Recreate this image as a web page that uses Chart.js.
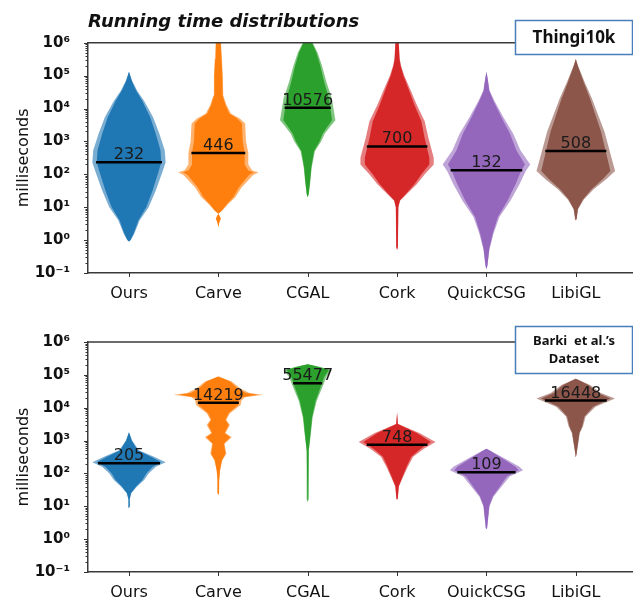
<!DOCTYPE html>
<html><head><meta charset="utf-8">
<script src="https://cdn.jsdelivr.net/npm/chart.js@4.4.1/dist/chart.umd.min.js"></script>
<style>
html,body{margin:0;padding:0;background:#fff;}
#wrap{position:relative;width:633px;height:597px;overflow:hidden;background:#fff;}
canvas{position:absolute;left:0;}
#c1{top:0;}
#c2{top:300px;}
</style></head><body>
<div id="wrap"><canvas id="c1" width="633" height="300"></canvas><canvas id="c2" width="633" height="297"></canvas></div>
<script>
// ---------- data ----------
const categories = ['Ours', 'Carve', 'CGAL', 'Cork', 'QuickCSG', 'LibiGL'];
const colors = ['#1f77b4', '#ff7f0e', '#2ca02c', '#d62728', '#9467bd', '#8c564b'];
const yMin = 0.1, yMax = 1e6;

// medians (ms)
const thingiMedians = [232, 446, 10576, 700, 132, 508];
const barkiMedians = [205, 14219, 55477, 748, 109, 16448];

// density profiles: [milliseconds, half-width in category units]
const thingiOurs = [[1.3e5,0],[7e4,.035],[3.5e4,.09],[1.7e4,.17],[5400,.27],[1700,.34],[540,.40],[230,.41],[110,.37],[32,.30],[10,.22],[4,.12],[1.6,.06],[1,.02],[0.9,0]];
const thingiCarve = [[1e6,.03],[3.2e5,.04],[1e5,.05],[2.5e4,.055],[1.3e4,.09],[7000,.14],[5000,.24],[3500,.30],[1000,.31],[450,.335],[200,.335],[130,.38],[115,.45],[95,.39],[40,.26],[20,.19],[12.6,.11],[7.9,.045],[6.3,0],[4.5,.03],[3.5,.012],[2.5,0]];
const thingiCGAL = [[1e6,.055],[5e5,.11],[2e5,.16],[6.3e4,.21],[2e4,.27],[4400,.31],[2800,.25],[1700,.19],[1000,.15],[500,.08],[160,.045],[63,.03],[25,.012],[20,0]];
const thingiCork = [[1e6,.02],[3.2e5,.03],[2e5,.045],[1e5,.08],[3.2e4,.16],[1.3e4,.22],[4000,.31],[1300,.35],[320,.41],[200,.41],[100,.31],[50,.22],[25,.11],[16,.035],[10,.015],[0.63,.01],[0.5,0]];
const thingiQuickCSG = [[1.3e5,0],[8e4,.015],[3.5e4,.035],[1.7e4,.09],[5400,.19],[1700,.30],[540,.38],[200,.49],[126,.44],[50,.37],[16,.27],[5,.145],[1.6,.08],[0.54,.035],[0.17,.012],[0.13,0]];
const thingiLibiGL = [[3.2e5,0],[2e5,.025],[6.3e4,.10],[2e4,.18],[6300,.25],[2000,.32],[630,.37],[250,.41],[126,.44],[71,.34],[35,.20],[17,.09],[8.7,.025],[4.4,.01],[4,0]];

const barkiOurs = [[1800,0],[1000,.035],[510,.11],[320,.28],[220,.41],[160,.30],[100,.22],[63,.17],[40,.09],[25,.025],[16,.008],[10,.01],[9,0]];
const barkiCarve = [[8.9e4,0],[6.3e4,.15],[3.8e4,.25],[2.8e4,.35],[2.5e4,.5],[2.1e4,.3],[1.7e4,.26],[1.2e4,.25],[6800,.13],[4300,.09],[3000,.13],[1700,.08],[1260,.15],[800,.07],[400,.09],[250,.045],[126,.02],[63,.01],[25,.008],[22,0]];
const barkiCGAL = [[2.1e5,0],[1.8e5,.12],[1.4e5,.27],[8.7e4,.21],[4e4,.16],[1.6e4,.10],[5000,.055],[1600,.035],[500,.012],[16,.008],[14,0]];
const barkiCork = [[7000,0],[3200,.01],[1700,.25],[910,.43],[560,.30],[320,.18],[160,.12],[80,.07],[40,.02],[17,.008],[16,0]];
const barkiQuickCSG = [[560,0],[510,.035],[290,.2],[160,.37],[126,.41],[80,.26],[40,.17],[20,.08],[10,.035],[2.2,.008],[2,0]];
const barkiLibiGL = [[7.6e4,0],[6.9e4,.04],[4.9e4,.16],[2.8e4,.28],[1.9e4,.44],[1.07e4,.22],[5400,.11],[2700,.08],[1700,.045],[370,.008],[320,0]];

const thingiProfiles = [thingiOurs, thingiCarve, thingiCGAL, thingiCork, thingiQuickCSG, thingiLibiGL];
const barkiProfiles = [barkiOurs, barkiCarve, barkiCGAL, barkiCork, barkiQuickCSG, barkiLibiGL];

// ---------- helpers ----------
function sup(n) {
  const m = {'-':'⁻','0':'⁰','1':'¹','2':'²','3':'³','4':'⁴','5':'⁵','6':'⁶','7':'⁷','8':'⁸','9':'⁹'};
  return String(n).split('').map(c => m[c]).join('');
}
function rgba(hex, a) {
  const r = parseInt(hex.slice(1,3),16), g = parseInt(hex.slice(3,5),16), b = parseInt(hex.slice(5,7),16);
  return `rgba(${r},${g},${b},${a})`;
}
function polygon(i, profile, k) {
  const right = profile.map(([v, w]) => ({x: i + w * k, y: v}));
  const left = profile.slice().reverse().map(([v, w]) => ({x: i - w * k, y: v}));
  return right.concat(left);
}
function widthAt(profile, m) {
  const lm = Math.log10(m);
  for (let k = 0; k < profile.length - 1; k++) {
    const a = Math.log10(profile[k][0]), b = Math.log10(profile[k+1][0]);
    if (lm <= a && lm >= b) {
      const t = (a - lm) / (a - b);
      return profile[k][1] + (profile[k+1][1] - profile[k][1]) * t;
    }
  }
  return 0.3;
}
function isPow10(v) { const e = Math.log10(v); return Math.abs(e - Math.round(e)) < 1e-9; }

function decorPlugin(cfg) {
  return {
    id: 'decor',
    afterDraw(chart) {
      const ctx = chart.ctx, ca = chart.chartArea, xs = chart.scales.x, ys = chart.scales.y;
      ctx.save();
      // top spine
      ctx.strokeStyle = '#3a3a3a'; ctx.lineWidth = 1.5;
      ctx.beginPath(); ctx.moveTo(ca.left, ca.top); ctx.lineTo(ca.right, ca.top); ctx.stroke();
      // tick marks
      ctx.lineWidth = 1; ctx.strokeStyle = '#333';
      ys.ticks.forEach(t => {
        const p = Math.round(ys.getPixelForValue(t.value)) + 0.5;
        const L = isPow10(t.value) ? 4 : 2.5;
        ctx.beginPath(); ctx.moveTo(ca.left - L, p); ctx.lineTo(ca.left, p); ctx.stroke();
      });
      categories.forEach((c, i) => {
        const p = Math.round(xs.getPixelForValue(i)) + 0.5;
        ctx.beginPath(); ctx.moveTo(p, ca.bottom); ctx.lineTo(p, ca.bottom + 4); ctx.stroke();
      });
      // median labels
      ctx.fillStyle = '#1a1a1a';
      ctx.font = '16px "DejaVu Sans"';
      ctx.textAlign = 'center'; ctx.textBaseline = 'alphabetic';
      cfg.medians.forEach((m, i) => {
        ctx.fillText(String(m), xs.getPixelForValue(i), ys.getPixelForValue(m) - 3);
      });
      // title
      if (cfg.title) {
        ctx.textAlign = 'left'; ctx.fillStyle = '#111';
        ctx.font = 'italic bold 18px "DejaVu Sans"';
        ctx.fillText(cfg.title, 88, 27);
      }
      // legend box
      const b = cfg.box;
      ctx.fillStyle = '#fff';
      ctx.fillRect(b.x, b.y, b.w, b.h);
      ctx.strokeStyle = '#4a7ebb'; ctx.lineWidth = 1.5;
      ctx.strokeRect(b.x + 0.5, b.y + 0.5, b.w - 1, b.h - 1);
      ctx.fillStyle = '#111'; ctx.textAlign = 'center'; ctx.textBaseline = 'middle';
      ctx.font = 'bold ' + b.size + 'px "Noto Sans"';
      b.lines.forEach((ln, k) => ctx.fillText(ln, b.x + b.w / 2, b.ly[k]));
      ctx.restore();
    }
  };
}

function makeChart(id, profiles, medians, top, xHeight, cfg) {
  const datasets = [];
  profiles.forEach((p, i) => {
    datasets.push({data: polygon(i, p, 1), showLine: true, fill: 'shape', backgroundColor: rgba(colors[i], 0.6), borderWidth: 0, pointRadius: 0, tension: 0, order: 3});
    datasets.push({data: polygon(i, p, 0.88), showLine: true, fill: 'shape', backgroundColor: colors[i], borderWidth: 0, pointRadius: 0, tension: 0, order: 2});
  });
  medians.forEach((m, i) => {
    const w = widthAt(profiles[i], m) * 0.9;
    datasets.push({data: [{x: i - w, y: m}, {x: i + w, y: m}], showLine: true, fill: false, borderColor: '#000', borderWidth: 2.5, pointRadius: 0, order: 1});
  });
  cfg.medians = medians;
  return new Chart(document.getElementById(id), {
    type: 'scatter',
    data: {datasets},
    options: {
      responsive: false, animation: false, devicePixelRatio: 1,
      layout: {padding: {top: top, left: 0, right: 0, bottom: 0}},
      plugins: {legend: {display: false}, tooltip: {enabled: false}},
      scales: {
        x: {
          type: 'linear', min: -0.4586, max: 5.64,
          afterBuildTicks: s => { s.ticks = categories.map((c, i) => ({value: i})); },
          afterFit: s => { s.height = xHeight; },
          grid: {display: false},
          border: {display: true, color: '#3a3a3a', width: 1.5},
          ticks: {autoSkip: false, maxRotation: 0, padding: 3, color: '#111',
                  font: {family: 'DejaVu Sans', size: 16},
                  callback: v => categories[v] !== undefined ? categories[v] : ''}
        },
        y: {
          type: 'logarithmic', min: yMin, max: yMax,
          afterBuildTicks: s => {
            const t = [];
            for (let e = -1; e <= 5; e++) for (let k = 1; k <= 9; k++) t.push({value: k * Math.pow(10, e)});
            t.push({value: yMax});
            s.ticks = t;
          },
          afterFit: s => { s.width = 88; },
          grid: {display: false},
          border: {display: true, color: '#3a3a3a', width: 1.5},
          ticks: {autoSkip: false, padding: 10, color: '#111',
                  font: {family: 'DejaVu Sans', size: 15, weight: 'bold'},
                  callback: v => isPow10(v) ? '10' + sup(Math.round(Math.log10(v))) : ''},
          title: {display: true, text: 'milliseconds', color: '#111',
                  font: {family: 'DejaVu Sans', size: 16}, padding: {top: 14, bottom: 0}}
        }
      }
    },
    plugins: [decorPlugin(cfg)]
  });
}

makeChart('c1', thingiProfiles, thingiMedians, 42.7, 27, {
  title: 'Running time distributions',
  box: {x: 515, y: 20, w: 118, h: 35, size: 17, lines: ['Thingi10k'], ly: [38]}
});
makeChart('c2', barkiProfiles, barkiMedians, 42, 25, {
  title: null,
  box: {x: 515, y: 26, w: 118, h: 48, size: 13, lines: ['Barki  et al.\u2019s', 'Dataset'], ly: [41, 59.5]}
});
</script>
</body></html>
